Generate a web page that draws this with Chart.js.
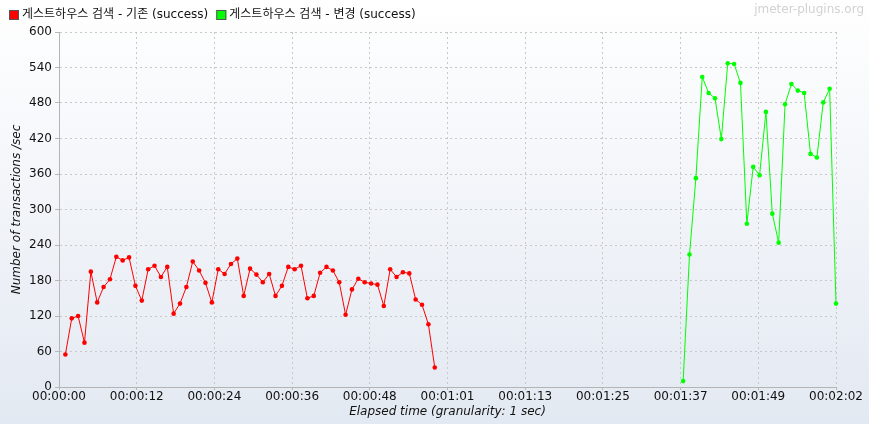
<!DOCTYPE html>
<html>
<head>
<meta charset="utf-8">
<script src="https://cdn.jsdelivr.net/npm/chart.js@4.4.1/dist/chart.umd.min.js"></script>
<style>
  html, body { margin: 0; padding: 0; background: #fff; }
  #wrap { width: 869px; height: 424px; }
</style>
</head>
<body>
<div id="wrap"><canvas id="chart" width="869" height="424"></canvas></div>
<script>
// series names
const seriesNames = ['게스트하우스 검색 - 기존 (success)', '게스트하우스 검색 - 변경 (success)'];
const seriesColors = ['#ff0000', '#00ff00'];

// first second of each series, then one value per second
const baseStart = 1;
const baseValues = [55, 116, 120, 75, 195, 143, 169, 182, 220, 214, 219, 171, 146, 199, 205, 186, 203, 124, 141, 169,
  212, 197, 176, 143, 199, 191, 208, 217, 154, 200, 190, 177, 191, 154, 171, 203, 199, 205, 150, 154,
  193, 203, 197, 177, 122, 165, 183, 177, 175, 173, 137, 199, 186, 194, 192, 148, 139, 106, 33];
const changedStart = 98;
const changedValues = [10, 224, 353, 524, 497, 488, 419, 547, 546, 514, 276, 372, 358, 465, 293, 244, 478, 512, 501, 497,
  394, 388, 481, 504, 141];

// x axis ticks (seconds) and their labels
const xTickValues = [0, 12.2, 24.4, 36.6, 48.8, 61, 73.2, 85.4, 97.6, 109.8, 122];
const xTickLabels = ['00:00:00', '00:00:12', '00:00:24', '00:00:36', '00:00:48', '00:01:01',
  '00:01:13', '00:01:25', '00:01:37', '00:01:49', '00:02:02'];

const FONT = '"DejaVu Sans", "Noto Sans CJK KR", sans-serif';

function toPoints(start, values) {
  return values.map((v, i) => ({x: start + i, y: v}));
}

const bgPlugin = {
  id: 'bg',
  beforeDraw(chart) {
    const ctx = chart.ctx;
    const g = ctx.createLinearGradient(0, 0, 0, chart.height);
    g.addColorStop(0, '#ffffff');
    g.addColorStop(1, '#e3e9f2');
    ctx.save();
    ctx.fillStyle = g;
    ctx.fillRect(0, 0, chart.width, chart.height);
    ctx.restore();
  },
  afterDraw(chart) {
    const ctx = chart.ctx;
    ctx.save();
    ctx.font = '12px ' + FONT;
    ctx.textBaseline = 'middle';
    let x = 9;
    seriesNames.forEach((name, i) => {
      ctx.fillStyle = seriesColors[i];
      ctx.fillRect(x, 10, 10, 10);
      ctx.strokeStyle = '#555';
      ctx.lineWidth = 1;
      ctx.strokeRect(x + 0.5, 10.5, 9, 9);
      ctx.fillStyle = '#111';
      ctx.textAlign = 'left';
      ctx.fillText(name, x + 13, 15);
      x += 13 + ctx.measureText(name).width + 8;
    });
    ctx.fillStyle = '#d2d2d2';
    ctx.textAlign = 'right';
    ctx.fillText('jmeter-plugins.org', 864, 10);
    ctx.restore();
  }
};

new Chart(document.getElementById('chart'), {
  type: 'line',
  data: {
    datasets: [
      {
        label: seriesNames[0],
        data: toPoints(baseStart, baseValues),
        borderColor: seriesColors[0],
        backgroundColor: seriesColors[0],
        borderWidth: 1,
        pointRadius: 2.3,
        pointBorderWidth: 0,
        tension: 0,
        clip: false
      },
      {
        label: seriesNames[1],
        data: toPoints(changedStart, changedValues),
        borderColor: seriesColors[1],
        backgroundColor: seriesColors[1],
        borderWidth: 1,
        pointRadius: 2.3,
        pointBorderWidth: 0,
        tension: 0,
        clip: false
      }
    ]
  },
  options: {
    responsive: false,
    animation: false,
    layout: {padding: {top: 32, right: 33, left: 0, bottom: 0}},
    plugins: {
      legend: {display: false},
      tooltip: {enabled: false}
    },
    scales: {
      x: {
        type: 'linear',
        min: 0,
        max: 122,
        afterBuildTicks(scale) {
          scale.ticks = xTickValues.map(v => ({value: v}));
        },
        afterFit(scale) { scale.height = 37; },
        ticks: {
          autoSkip: false,
          maxRotation: 0,
          padding: 0,
          color: '#111',
          font: {family: FONT, size: 12},
          callback: (v, i) => xTickLabels[i]
        },
        grid: {color: '#c8c8c8', tickLength: 3, tickColor: '#b8b8b8'},
        border: {display: true, color: '#b4b4b4', dash: [2, 3]},
        title: {
          display: true,
          text: 'Elapsed time (granularity: 1 sec)',
          color: '#111',
          font: {family: FONT, size: 12, style: 'italic'},
          padding: {top: 0, bottom: 5}
        }
      },
      y: {
        min: 0,
        max: 600,
        afterFit(scale) { scale.width = 59; },
        ticks: {
          stepSize: 60,
          padding: 3,
          color: '#111',
          font: {family: FONT, size: 12}
        },
        grid: {color: '#c8c8c8', tickLength: 4, tickColor: '#b8b8b8'},
        border: {display: true, color: '#b4b4b4', dash: [2, 3]},
        title: {
          display: true,
          text: 'Number of transactions /sec',
          color: '#111',
          font: {family: FONT, size: 12, style: 'italic'},
          padding: {top: 10, bottom: 0}
        }
      }
    }
  },
  plugins: [bgPlugin]
});
</script>
</body>
</html>
